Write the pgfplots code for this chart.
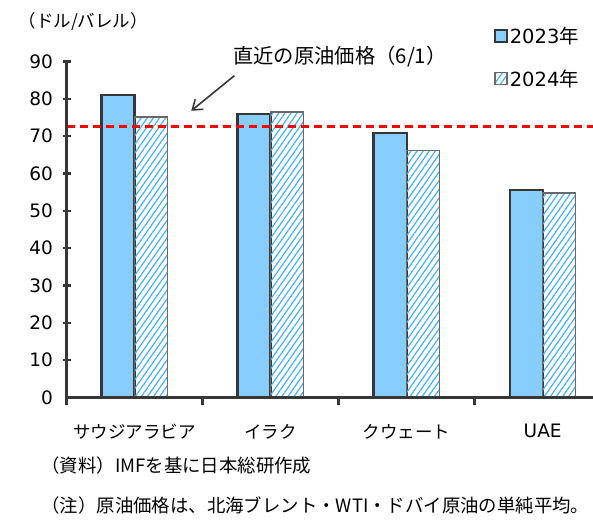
\documentclass[border=0pt]{standalone}
\usepackage{pgfplots}
\pgfplotsset{compat=1.18}
\usepackage{fontspec}
\setmainfont{Noto Sans CJK JP}
\newfontfamily\jp{Noto Sans CJK JP}
\newfontfamily\dv{DejaVu Sans}
\usetikzlibrary{arrows.meta,patterns.meta}
\definecolor{barblue}{RGB}{135,206,255}
\definecolor{hatchblue}{RGB}{70,175,255}
\definecolor{darkedge}{RGB}{55,55,55}
\definecolor{greyedge}{RGB}{105,105,105}
\newcommand{\cjkf}{\jp\fontsize{17.5}{20}\selectfont}
\newcommand{\numf}{\dv\fontsize{18.5}{20}\selectfont}
\begin{document}
\begin{tikzpicture}
\begin{axis}[
  at={(66.5pt,122.5pt)}, anchor=south west,
  scale only axis, width=526.5pt, height=336pt,
  xmin=-0.5, xmax=3.37, ymin=0, ymax=90,
  axis lines=left,
  axis line style={draw=none},
  ytick={0,10,...,90},
  xtick={0,1,2,3},
  xticklabels={サウジアラビア,イラク,クウェート,{\dv\fontsize{18.5}{20}\selectfont UAE}},
  x tick label style={yshift=-23pt},
  major tick length=0pt,
  /pgf/number format/assume math mode=true,
  yticklabel style={font=\numf, xshift=-10pt},
  xticklabel style={font=\cjkf},
  clip=false,
  legend style={at={(0.812,1.11)}, anchor=north west, draw=none, fill=none,
    font=\dv\fontsize{19.5}{22}\selectfont, inner sep=0pt, row sep=21pt,
    /tikz/every even column/.append style={column sep=4pt}},
  legend cell align=left,
  legend image code/.code={\draw[#1, line width=1.6pt] (0pt,-6pt) rectangle (12pt,6pt);},
]
\addplot[ybar, bar width=0.243, bar shift=-0.1215, fill=barblue, draw=darkedge, line width=2.2pt]
  coordinates {(0,81.0) (1,75.9) (2,70.8) (3,55.6)};
\addlegendentry{2023{\jp\fontsize{19.5}{22}\selectfont 年}}
\addplot[ybar, bar width=0.243, bar shift=0.1215, pattern={Lines[angle=55,distance=5pt,line width=1.2pt]}, pattern color=hatchblue, draw=greyedge, line width=1.5pt]
  coordinates {(0,75.2) (1,76.5) (2,66.2) (3,54.8)};
\addlegendentry{2024{\jp\fontsize{19.5}{22}\selectfont 年}}
\addplot[red, line width=3pt, dash pattern=on 8pt off 5pt, forget plot]
  coordinates {(-0.5,72.7) (3.37,72.7)};
\node[font=\jp\fontsize{20.3}{22}\selectfont] at (axis cs:1.51,91.3) {直近の原油価格（6/1）};
\draw[-{Straight Barb[length=9pt,width=13pt,line width=1.6pt]}, line width=1.6pt, draw=darkedge]
  (axis cs:0.734,86.2) -- (axis cs:0.417,76.8);
\end{axis}
% axis lines and ticks as filled rectangles (axis box: x from 66.5pt, y from 122.5pt; 37.333pt per 10, 136.05pt per category)
\fill[darkedge] (65.2pt,121.2pt) rectangle (67.8pt,458.5pt);
\fill[darkedge] (65.2pt,121.2pt) rectangle (593pt,123.8pt);
\foreach \k in {1,...,9} {\fill[darkedge] (63pt,{121.3pt+\k*37.333pt}) rectangle (71pt,{123.7pt+\k*37.333pt});}
\foreach \k in {1,2,3} {\fill[darkedge] ({65.3pt+\k*136.05pt},115pt) rectangle ({67.7pt+\k*136.05pt},123pt);}
\fill[darkedge] (65.2pt,115pt) rectangle (67.8pt,123pt);
\node[font=\cjkf, anchor=west] at (15pt,498pt) {（ドル/バレル）};
\node[font=\jp\fontsize{18.4}{20}\selectfont, anchor=west] at (38pt,54pt) {（資料）IMFを基に日本総研作成};
\node[font=\jp\fontsize{18.4}{20}\selectfont, anchor=west] at (38pt,15pt) {（注）原油価格は、北海ブレント・WTI・ドバイ原油の単純平均。};
\pgfresetboundingbox
\useasboundingbox (0pt,0pt) rectangle (593pt,520pt);
\end{tikzpicture}
\end{document}
